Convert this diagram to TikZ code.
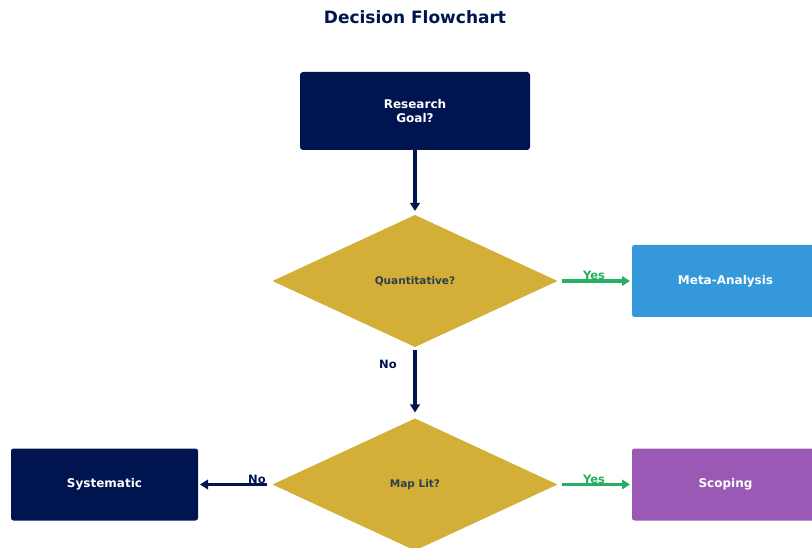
\documentclass[tikz,border=0pt]{standalone}
\usepackage{fontspec}
\setmainfont{DejaVu Sans}
\usetikzlibrary{shapes.geometric,arrows.meta}

\definecolor{navyink}{HTML}{001550}
\definecolor{goldfill}{HTML}{D3AF37}
\definecolor{metablue}{HTML}{3498DB}
\definecolor{scopepurple}{HTML}{9B59B6}
\definecolor{yesgreen}{HTML}{27AE60}
\definecolor{slatetext}{HTML}{2C3E50}

\tikzset{
  box/.style={rectangle, rounded corners=2.5pt, minimum width=187pt, minimum height=72pt,
    inner sep=0pt, outer sep=0pt, text=white, align=center,
    font=\bfseries\fontsize{12}{14}\selectfont},
  decision/.style={diamond, fill=goldfill, minimum width=285pt, minimum height=132pt,
    inner sep=0pt, outer sep=0pt, text=slatetext,
    font=\bfseries\fontsize{10.5}{12}\selectfont},
  flow/.style={line width=3.2pt, -{Triangle[length=8pt,width=9.5pt]}},
  yesflow/.style={flow, draw=yesgreen},
  noflow/.style={flow, draw=navyink},
  edgelabel/.style={anchor=base, inner sep=0pt, font=\bfseries\fontsize{11.5}{13}\selectfont},
}

\begin{document}
\begin{tikzpicture}[x=1pt, y=-1pt]
  \useasboundingbox (0,0) rectangle (812,548);

  % title
  \node[anchor=base, inner sep=0pt, text=navyink, font=\bfseries\fontsize{17}{20}\selectfont]
    (title) at (415,23.3) {Decision Flowchart};

  % nodes
  \node[box, fill=navyink, minimum width=230pt, minimum height=78pt, rounded corners=3pt]
    (goal) at (415,111) {Research\\Goal?};
  \node[decision] (quant) at (415,281) {Quantitative?};
  \node[box, fill=metablue] (meta) at (725.5,281) {Meta-Analysis};
  \node[decision] (maplit) at (415,484.5) {Map Lit?};
  \node[box, fill=navyink] (sys) at (104.5,484.5) {Systematic};
  \node[box, fill=scopepurple] (scope) at (725.5,484.5) {Scoping};

  % connectors
  \draw[noflow, shorten >=4pt] (goal) -- (quant);
  \draw[yesflow, shorten <=4.5pt, shorten >=2pt] (quant) -- (meta);
  \draw[noflow, shorten <=3pt, shorten >=6pt] (quant) -- (maplit);
  \draw[noflow, shorten <=5.5pt, shorten >=2pt] (maplit) -- (sys);
  \draw[yesflow, shorten <=4.5pt, shorten >=2pt] (maplit) -- (scope);

  % connector labels
  \node[edgelabel, text=yesgreen] (yes1) at (594,280) {Yes};
  \node[edgelabel, text=navyink] (no1) at (388,369) {No};
  \node[edgelabel, text=navyink] (no2) at (257,483.5) {No};
  \node[edgelabel, text=yesgreen] (yes2) at (594,483.5) {Yes};
\end{tikzpicture}
\end{document}
